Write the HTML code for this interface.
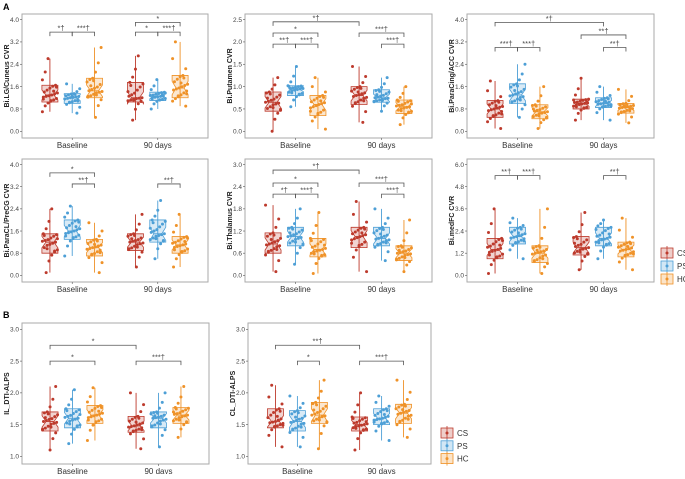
<!DOCTYPE html>
<html><head><meta charset="utf-8">
<style>
body{margin:0;background:#fff;font-family:"Liberation Sans",sans-serif;}
svg text{font-family:"Liberation Sans",sans-serif;}
</style></head>
<body>
<svg id="fig" width="685" height="474" viewBox="0 0 685 474" xmlns="http://www.w3.org/2000/svg">
<text x="3" y="10" font-size="9" font-weight="bold" font-family="Liberation Serif">A</text>
<text x="3" y="318" font-size="9" font-weight="bold" font-family="Liberation Serif">B</text>
</svg>
<script>
const groupNames = ["CS","PS","HC"];
const timeLabels = ["Baseline","90 days"];
const colors = ["#bd3a2c","#4d9fd6","#ef9228"];
// panel titles
const titles = ["Bi.LG/Cuneus CVR","Bi.Putamen CVR","Bi.ParaCing/ACC CVR","Bi.ParaCL/PreCG CVR","Bi.Thalamus CVR","Bi.medFC CVR","IL_DTI-ALPS","CL_DTI-ALPS"];
// tick labels per panel
const ticks = [
 ["0.0","0.8","1.6","2.4","3.2","4.0"],
 ["0.0","0.5","1.0","1.5","2.0","2.5"],
 ["0.0","0.8","1.6","2.4","3.2","4.0"],
 ["0.0","0.8","1.6","2.4","3.2","4.0"],
 ["0.0","0.6","1.2","1.8","2.4","3.0"],
 ["0.0","1.2","2.4","3.6","4.8","6.0"],
 ["1.0","1.5","2.0","2.5","3.0"],
 ["1.0","1.5","2.0","2.5","3.0"]];
// box stats [lo,q1,median,q3,hi] for Baseline CS,PS,HC then 90d CS,PS,HC
const boxStats = [
 [[0.7,1.05,1.3,1.65,2.6],[0.65,1.0,1.2,1.35,1.7],[0.5,1.2,1.45,1.9,3.0],[0.4,1.05,1.2,1.75,2.7],[0.8,1.1,1.25,1.4,1.85],[0.9,1.2,1.55,2.0,3.2]],
 [[0.0,0.45,0.65,0.88,1.2],[0.55,0.8,0.95,1.02,1.45],[0.05,0.35,0.6,0.8,1.2],[0.2,0.6,0.8,1.0,1.45],[0.45,0.65,0.75,0.93,1.2],[0.15,0.4,0.55,0.7,1.0]],
 [[0.1,0.5,0.8,1.1,1.8],[0.5,1.0,1.3,1.7,2.4],[0.1,0.45,0.7,0.95,1.6],[0.4,0.8,1.0,1.15,1.9],[0.4,0.85,1.0,1.2,1.6],[0.3,0.65,0.85,1.0,1.5]],
 [[0.1,0.8,1.2,1.5,2.4],[0.7,1.3,1.6,2.0,2.5],[0.1,0.7,1.0,1.3,1.9],[0.3,0.9,1.2,1.5,2.2],[0.6,1.2,1.5,2.0,2.7],[0.3,0.8,1.1,1.4,2.2]],
 [[0.1,0.6,0.85,1.15,1.9],[0.3,0.8,1.05,1.3,1.8],[0.05,0.5,0.7,1.0,1.7],[0.1,0.75,1.05,1.3,2.0],[0.4,0.8,1.0,1.3,1.8],[0.1,0.4,0.6,0.8,1.5]],
 [[0.1,0.9,1.4,2.0,3.6],[0.9,1.7,2.1,2.6,3.1],[0.1,0.7,1.2,1.6,3.6],[0.3,1.1,1.5,2.1,3.4],[0.9,1.6,2.0,2.6,3.0],[0.3,1.0,1.4,1.8,3.1]],
 [[1.1,1.4,1.55,1.7,2.1],[1.2,1.45,1.6,1.75,2.05],[1.25,1.52,1.65,1.8,2.08],[1.12,1.38,1.48,1.63,2.0],[1.15,1.45,1.6,1.7,2.0],[1.3,1.52,1.65,1.77,2.1]],
 [[1.15,1.45,1.55,1.75,2.12],[1.15,1.4,1.55,1.72,1.95],[1.12,1.52,1.65,1.85,2.2],[1.1,1.4,1.5,1.62,2.0],[1.25,1.5,1.6,1.75,1.95],[1.3,1.52,1.68,1.82,2.2]]];
// relative point positions within box (0=lo,1=q1,2=med,3=q3,4=hi)
const pointFracs = [0.0,0.6,0.9,1.1,1.3,1.5,1.7,1.8,1.9,2.0,2.1,2.2,2.3,2.5,2.7,2.9,3.0,3.2,3.5,4.0,1.2,2.4,2.8,1.4];
// significance brackets [from group, to group, y value, label]
const brackets = [
 [[0,1,3.55,"*†"],[1,2,3.55,"***†"],[3,4,3.55,"*"],[4,5,3.55,"***†"],[3,5,3.9,"*"]],
 [[0,1,1.95,"**†"],[1,2,1.95,"***†"],[0,2,2.2,"*"],[0,3,2.45,"*†"],[3,5,2.2,"***†"],[4,5,1.95,"***†"]],
 [[0,1,3.0,"***†"],[1,2,3.0,"***†"],[0,4,3.9,"*†"],[3,5,3.45,"**†"],[4,5,3.0,"**†"]],
 [[0,2,3.7,"*"],[1,2,3.3,"**†"],[4,5,3.3,"**†"]],
 [[0,1,2.2,"*†"],[1,2,2.2,"***†"],[0,2,2.5,"*"],[0,3,2.85,"*†"],[3,5,2.5,"***†"],[4,5,2.2,"***†"]],
 [[0,1,5.4,"**†"],[1,2,5.4,"***†"],[4,5,5.4,"**†"]],
 [[0,2,2.5,"*"],[0,3,2.75,"*"],[3,5,2.5,"***†"]],
 [[1,2,2.5,"*"],[0,3,2.75,"**†"],[3,5,2.5,"***†"]]];

const NS="http://www.w3.org/2000/svg";
const svg=document.getElementById('fig');
function mk(tag,attrs,parent){const e=document.createElementNS(NS,tag);for(const k in attrs)e.setAttribute(k,attrs[k]);(parent||svg).appendChild(e);return e;}
const frames=[[22,14,186,124],[245,14,187,124],[467,14,187,124],[22,159,186,123],[245,159,187,123],[467,159,187,123],[22,323,187,141],[248,323,183,141]];
const gOff=[0.15,0.27,0.39,0.61,0.73,0.85];

frames.forEach((f,p)=>{
 const [fx,fy,fw,fh]=f;
 const g=mk('g',{});
 
 
 const tv=ticks[p].map(Number);
 const t0=tv[0],t1=tv[tv.length-1],sp=t1-t0;
 const y0=t0-0.06*sp,y1=t1+0.05*sp;
 const Y=v=>fy+fh-(v-y0)/(y1-y0)*fh;
 const X=i=>fx+gOff[i]*fw;
 const fr=mk('rect',{x:fx,y:fy,width:fw,height:fh,fill:'none',stroke:'#aaa','stroke-width':1},g);
 
 ticks[p].forEach((t,i)=>{
  mk('line',{x1:fx-2,x2:fx,y1:Y(tv[i]),y2:Y(tv[i]),stroke:'#555','stroke-width':0.6},g);
  const tl=mk('text',{x:fx-3,y:Y(tv[i])+2.3,'font-size':6.5,fill:'#444','text-anchor':'end'},g);
  tl.textContent=t;
  
 });
 const yl=mk('text',{transform:`translate(${fx-13},${fy+fh/2}) rotate(-90)`,'font-size':7,'font-weight':'bold',fill:'#222','text-anchor':'middle'},g);
 yl.textContent=titles[p];
 
 timeLabels.forEach((t,i)=>{
  const cx=fx+(i?0.73:0.27)*fw;
  mk('line',{x1:cx,x2:cx,y1:fy+fh,y2:fy+fh+2,stroke:'#555','stroke-width':0.6},g);
  const xl=mk('text',{x:cx,y:fy+fh+10,'font-size':8,fill:'#333','text-anchor':'middle'},g);
  xl.textContent=t;
  
 });
 boxStats[p].forEach((s,i)=>{
  const c=colors[i%3],cx=X(i),w=8,n=0.3*(s[3]-s[1]),nw=w*0.5;
  const bg=mk('g',{},g);
  
  
  mk('line',{x1:cx,x2:cx,y1:Y(s[0]),y2:Y(s[4]),stroke:c,'stroke-width':0.9},bg);
  const pts=[[cx-w,Y(s[3])],[cx+w,Y(s[3])],[cx+w,Y(s[2]+n)],[cx+nw,Y(s[2])],[cx+w,Y(s[2]-n)],[cx+w,Y(s[1])],[cx-w,Y(s[1])],[cx-w,Y(s[2]-n)],[cx-nw,Y(s[2])],[cx-w,Y(s[2]+n)]];
  mk('polygon',{points:pts.map(q=>q.join(',')).join(' '),fill:c,'fill-opacity':0.22,stroke:c,'stroke-width':0.8},bg);
  mk('line',{x1:cx-nw,x2:cx+nw,y1:Y(s[2]),y2:Y(s[2]),stroke:c,'stroke-width':0.9},bg);
  pointFracs.forEach((fq,k)=>{
   const a=Math.floor(Math.min(fq,3.999)),fr2=fq-a;
   const v=s[a]+(s[Math.min(a+1,4)]-s[a])*fr2;
   const jx=(((k*37+i*13+p*7)%17)/16-0.5)*15;
   const d=mk('circle',{cx:cx+jx,cy:Y(v),r:1.5,fill:c},bg);
   
  });
 });
 brackets[p].forEach(b=>{
  const xa=X(b[0]),xb=X(b[1]),yy=Y(b[2]);
  const bk=mk('g',{},g);
  
  mk('polyline',{points:`${xa},${yy+4} ${xa},${yy} ${xb},${yy} ${xb},${yy+4}`,fill:'none',stroke:'#555','stroke-width':0.8},bk);
  const t=mk('text',{x:(xa+xb)/2,y:yy-1.5,'font-size':7.5,fill:'#444','text-anchor':'middle'},bk);
  t.textContent=b[3];
 });
});
function legend(x,y,gap,name){
 const lg=mk('g',{});
 
 groupNames.forEach((gname,i)=>{
  const c=colors[i],yy=y+i*gap;
  const e=mk('g',{},lg);
  
  mk('rect',{x:x,y:yy-5,width:12,height:10,fill:c,'fill-opacity':0.25,stroke:c,'stroke-width':0.8},e);
  mk('line',{x1:x+6,x2:x+6,y1:yy-7,y2:yy+7,stroke:c,'stroke-width':0.8},e);
  mk('circle',{cx:x+6,cy:yy,r:1.5,fill:c},e);
  const t=mk('text',{x:x+16,y:yy+3,'font-size':8,fill:'#333'},e);
  t.textContent=gname;
 });
}
legend(661,253,13,'legend-a');
legend(441,433,12.8,'legend-b');
</script>
</body></html>
